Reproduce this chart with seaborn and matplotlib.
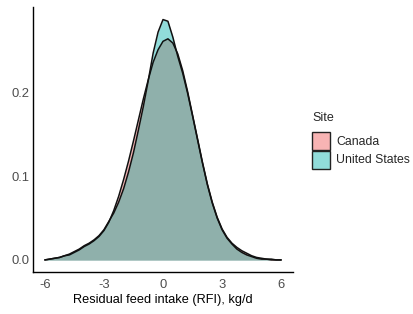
import numpy as np
import pandas as pd
import seaborn as sns
import matplotlib.pyplot as plt
from matplotlib.patches import Rectangle

# density curves (RFI grid, kg/d)
rfi = [-6.00, -5.75, -5.50, -5.25, -5.00, -4.75, -4.50, -4.25, -4.00, -3.75,
       -3.50, -3.25, -3.00, -2.75, -2.50, -2.25, -2.00, -1.75, -1.50, -1.25,
       -1.00, -0.75, -0.50, -0.25, 0.00, 0.25, 0.50, 0.75, 1.00, 1.25,
       1.50, 1.75, 2.00, 2.25, 2.50, 2.75, 3.00, 3.25, 3.50, 3.75,
       4.00, 4.25, 4.50, 4.75, 5.00, 5.25, 5.50, 5.75, 6.00]
canada = [0.000, 0.001, 0.002, 0.003, 0.005, 0.006, 0.009, 0.012, 0.016, 0.019,
          0.023, 0.028, 0.035, 0.045, 0.059, 0.076, 0.096, 0.118, 0.142, 0.167,
          0.192, 0.215, 0.236, 0.251, 0.261, 0.264, 0.259, 0.246, 0.226, 0.201,
          0.173, 0.145, 0.117, 0.091, 0.069, 0.051, 0.037, 0.027, 0.020, 0.015,
          0.011, 0.008, 0.005, 0.003, 0.002, 0.001, 0.001, 0.000, 0.000]
usa = [0.000, 0.001, 0.002, 0.003, 0.005, 0.007, 0.010, 0.013, 0.017, 0.020,
       0.024, 0.029, 0.036, 0.046, 0.056, 0.069, 0.085, 0.105, 0.128, 0.155,
       0.183, 0.214, 0.247, 0.272, 0.287, 0.285, 0.266, 0.243, 0.223, 0.199,
       0.172, 0.144, 0.116, 0.090, 0.068, 0.050, 0.036, 0.026, 0.019, 0.013,
       0.009, 0.006, 0.004, 0.002, 0.001, 0.001, 0.000, 0.000, 0.000]
sites = ["Canada", "United States"]
x_ticks = [-6, -3, 0, 3, 6]
y_ticks = [0.0, 0.1, 0.2]

pink = "#F8B4B4"
teal = "#91DCDA"
both = "#8FB0AB"

sns.set_style("white")
plt.rcParams["font.family"] = ["Liberation Sans", "DejaVu Sans"]

df = pd.DataFrame({
    "rfi": rfi + rfi,
    "density": canada + usa,
    "site": [sites[0]] * len(rfi) + [sites[1]] * len(rfi),
})

W, H = 413, 314
fig = plt.figure(figsize=(W / 100, H / 100), dpi=100)
ax = fig.add_axes([33 / W, 42 / H, 260 / W, 265 / H])

x = np.array(rfi)
ca = np.array(canada)
us = np.array(usa)
ax.fill_between(x, 0, ca, color=pink, linewidth=0)
ax.fill_between(x, 0, us, color=teal, linewidth=0)
ax.fill_between(x, 0, np.minimum(ca, us), color=both, linewidth=0)

sns.lineplot(data=df, x="rfi", y="density", hue="site", units="site",
             estimator=None, palette={sites[0]: "#111111", sites[1]: "#111111"},
             linewidth=1.1, legend=False, ax=ax)

ax.set_xlim(-6.6, 6.6)
ax.set_ylim(-0.0144, 0.302)
ax.set_xticks(x_ticks)
ax.set_xticklabels([str(t) for t in x_ticks])
ax.set_yticks(y_ticks)
ax.set_yticklabels([f"{t:.1f}" for t in y_ticks])
ax.tick_params(axis="both", length=0, labelsize=9.4, labelcolor="#4D4D4D")
ax.tick_params(axis="x", pad=5)
ax.tick_params(axis="y", pad=2.5)
ax.set_xlabel("Residual feed intake (RFI), kg/d", fontsize=9.2, color="black", labelpad=2)
ax.set_ylabel("")
for side in ["top", "right"]:
    ax.spines[side].set_visible(False)
for side in ["left", "bottom"]:
    ax.spines[side].set_color("black")
    ax.spines[side].set_linewidth(1.0)

# legend drawn by hand, ggplot style: touching square keys
fig.text(312 / W, 1 - 118 / H, "Site", fontsize=9, va="center", ha="left")
for i, (name, col) in enumerate(zip(sites, [pink, teal])):
    top = 132 + i * 18.5
    fig.add_artist(Rectangle((312 / W, 1 - (top + 18.5) / H), 18 / W, 18.5 / H,
                             transform=fig.transFigure, facecolor=col,
                             edgecolor="#222222", linewidth=1.0))
    fig.text(336 / W, 1 - (top + 9.5) / H, name, fontsize=8.8, va="center", ha="left")

fig.savefig("out.png", dpi=100)
